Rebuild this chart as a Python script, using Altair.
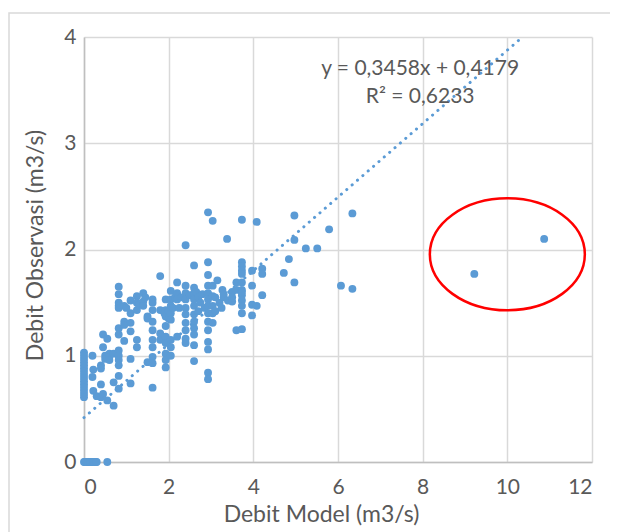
import altair as alt
import pandas as pd

# ---- data ----
model_x = [
    # zeros
    0.0, 0.02, 0.05, 0.07, 0.1, 0.12, 0.15, 0.18, 0.2, 0.22, 0.25, 0.28, 0.3, 0.55,
    # x = 0 column
    0.0, 0.0, 0.0, 0.0, 0.0, 0.0, 0.0, 0.0, 0.0, 0.0, 0.0, 0.0, 0.0, 0.0, 0.0,
    # low x
    0.2, 0.2, 0.22, 0.22, 0.3, 0.4, 0.4, 0.4, 0.4, 0.45, 0.45, 0.45, 0.5, 0.5,
    0.55, 0.55, 0.6, 0.6, 0.6, 0.7, 0.7, 0.7,
    0.82, 0.82, 0.82, 0.82, 0.82, 0.82, 0.82, 0.82, 0.82, 0.82, 0.82, 0.82, 0.82,
    0.95, 0.95, 0.95, 0.95, 1.0, 1.1, 1.1, 1.1, 1.1, 1.1, 1.1,
    1.25, 1.25, 1.25, 1.25, 1.25, 1.3, 1.4, 1.4, 1.4, 1.45, 1.5, 1.5, 1.5,
    1.62, 1.62, 1.62, 1.62, 1.62, 1.62, 1.62, 1.62, 1.62, 1.62,
    1.8, 1.8, 1.8, 1.8,
    1.93, 1.93, 1.93, 1.93, 1.93, 1.93, 1.93, 1.93, 1.93, 1.9, 2.0, 2.0,
    2.05, 2.05, 2.05, 2.05, 2.05, 2.05, 2.05, 2.05, 2.1, 2.15,
    2.2, 2.2, 2.2, 2.2, 2.25, 2.3,
    2.4, 2.4, 2.4, 2.4, 2.4, 2.4, 2.4, 2.4, 2.4, 2.4, 2.5,
    2.6, 2.6, 2.6, 2.6, 2.6, 2.6, 2.6, 2.6, 2.6, 2.6, 2.6, 2.65,
    2.7, 2.7, 2.75, 2.8, 2.85,
    2.93, 2.93, 2.93, 2.93, 2.93, 2.93, 2.93, 2.93, 2.93, 2.93, 2.93, 2.93, 2.93, 2.93,
    3.04, 3.04, 3.04, 3.04, 3.04, 3.04, 3.1, 3.1, 3.15, 3.2, 3.25, 3.27, 3.3, 3.3, 3.38, 3.4,
    3.5, 3.5, 3.5, 3.6, 3.6, 3.6,
    3.73, 3.73, 3.73, 3.73, 3.73, 3.73, 3.73, 3.73, 3.73, 3.73, 3.73, 3.73, 3.73,
    3.97, 3.97, 3.97, 3.97, 4.08, 4.08, 4.21, 4.21, 4.21,
    4.72, 4.84, 4.97, 4.97, 4.97, 5.24, 5.51, 5.79, 6.07, 6.34, 6.34,
    9.22, 10.87,
]
observed_y = [
    0, 0, 0, 0, 0, 0, 0, 0, 0, 0, 0, 0, 0, 0,
    1.03, 1.0, 0.97, 0.94, 0.91, 0.88, 0.85, 0.82, 0.79, 0.76, 0.73, 0.70, 0.67, 0.64, 0.61,
    1.0, 0.80, 0.87, 0.67, 0.62, 0.91, 0.88, 0.73, 0.61, 1.20, 1.08, 0.64, 1.0, 0.97,
    1.16, 0.58, 1.02, 0.99, 0.96, 1.02, 0.75, 0.53,
    1.65, 1.58, 1.50, 1.47, 1.45, 1.26, 1.20, 1.05, 1.00, 0.96, 0.91, 0.81, 0.69,
    1.47, 1.32, 1.29, 1.14, 1.45, 1.52, 1.40, 1.31, 1.23, 0.97, 0.74,
    1.56, 1.50, 1.43, 1.15, 1.08, 1.48, 1.59, 1.51, 1.47, 1.55, 1.37, 1.35, 0.94,
    1.53, 1.50, 1.43, 1.32, 1.24, 1.15, 1.08, 0.99, 0.93, 0.70,
    1.75, 1.43, 1.21, 1.15,
    1.53, 1.43, 1.37, 1.28, 1.18, 1.12, 1.02, 0.96, 0.89, 1.40, 1.42, 1.35,
    1.61, 1.53, 1.47, 1.40, 1.34, 1.15, 1.08, 1.00, 1.45, 1.55,
    1.69, 1.59, 1.53, 1.18, 1.45, 1.55,
    2.04, 1.66, 1.59, 1.53, 1.45, 1.39, 1.31, 1.24, 1.16, 1.12, 1.57,
    1.85, 1.64, 1.59, 1.53, 1.47, 1.39, 1.32, 1.26, 1.20, 1.10, 0.95, 1.60,
    1.55, 1.42, 1.50, 1.58, 1.45,
    2.35, 1.88, 1.76, 1.66, 1.59, 1.53, 1.47, 1.40, 1.32, 1.24, 1.13, 1.06, 0.84, 0.78,
    2.27, 1.66, 1.56, 1.47, 1.40, 1.31, 1.55, 1.42, 1.71, 1.50, 1.45, 1.62, 1.55, 1.58, 2.10, 1.52,
    1.60, 1.51, 1.55, 1.69, 1.62, 1.24,
    2.28, 1.88, 1.84, 1.80, 1.77, 1.69, 1.62, 1.57, 1.52, 1.47, 1.40, 1.25, 1.60,
    1.80, 1.66, 1.48, 1.38, 2.26, 1.47, 1.82, 1.77, 1.57,
    1.78, 1.91, 2.32, 2.09, 1.69, 2.01, 2.01, 2.19, 1.66, 2.34, 1.63,
    1.77, 2.10,
]

slope = 0.3458
intercept = 0.4179
trend_x = [0, (4 - intercept) / slope]
equation_lines = ["y = 0,3458x + 0,4179", "R² = 0,6233"]
equation_x = [7.94, 7.94]
equation_y = [3.70, 3.44]
circle_x = [10.0]
circle_y = [1.955]

x_ticks = [0, 2, 4, 6, 8, 10, 12]
y_ticks = [0, 1, 2, 3, 4]

FONT = "Lato"
GREY = "#595959"
BLUE = "#5B9BD5"

pts = pd.DataFrame({"x": model_x, "y": observed_y})
trend = pd.DataFrame({"x": trend_x, "y": [intercept + slope * v for v in trend_x]})
eq = pd.DataFrame({"x": equation_x, "y": equation_y, "t": equation_lines})
circ = pd.DataFrame({"x": circle_x, "y": circle_y})

xs = alt.Scale(domain=[0, 12], nice=False)
ys = alt.Scale(domain=[0, 4], nice=False)

xaxis = alt.Axis(values=x_ticks, format="d", title="Debit Model (m3/s)",
                 labelPadding=14, titlePadding=6, titleX=237, titleAlign="center")
yaxis = alt.Axis(values=y_ticks, format="d", title="Debit Observasi (m3/s)",
                 labelPadding=8, titlePadding=16, titleY=208, titleAlign="center")

border = alt.Chart(pd.DataFrame({"a": [0]})).mark_rect(
    fill="transparent", stroke="#D9D9D9", strokeWidth=1.5, clip=False
).encode(x=alt.value(-75), x2=alt.value(600), y=alt.value(-24), y2=alt.value(530))

scatter = alt.Chart(pts).mark_circle(size=62, color=BLUE, opacity=1).encode(
    x=alt.X("x:Q", scale=xs, axis=xaxis),
    y=alt.Y("y:Q", scale=ys, axis=yaxis),
)

line = alt.Chart(trend).mark_line(
    color=BLUE, strokeWidth=3, strokeDash=[0.1, 7], strokeCap="round"
).encode(x=alt.X("x:Q", scale=xs), y=alt.Y("y:Q", scale=ys))

text = alt.Chart(eq).mark_text(
    font=FONT, fontSize=21, color=GREY, align="center", baseline="middle"
).encode(x=alt.X("x:Q", scale=xs), y=alt.Y("y:Q", scale=ys), text="t:N")

ellipse_path = "M-1,0A1,0.7226,0,1,1,1,0A1,0.7226,0,1,1,-1,0Z"
ellipse = alt.Chart(circ).mark_point(
    shape=ellipse_path, size=155 * 155, filled=False, color="#FF0000",
    strokeWidth=2.5, opacity=1
).encode(x=alt.X("x:Q", scale=xs), y=alt.Y("y:Q", scale=ys))

chart = alt.layer(border, line, scatter, text, ellipse).properties(
    width=508, height=425,
    autosize=alt.AutoSizeParams(type="none"),
    padding={"left": 76, "top": 29, "right": 18, "bottom": 70},
).configure_view(stroke="transparent").configure_axis(
    labelFont=FONT, titleFont=FONT, labelFontSize=21, titleFontSize=23,
    labelColor=GREY, titleColor=GREY, titleFontWeight="normal",
    gridColor="#D9D9D9", gridWidth=1.5, domainColor="#BFBFBF", domainWidth=1.5,
    ticks=False,
)

chart.save("out.html", embed_options={"renderer": "svg", "actions": False})
